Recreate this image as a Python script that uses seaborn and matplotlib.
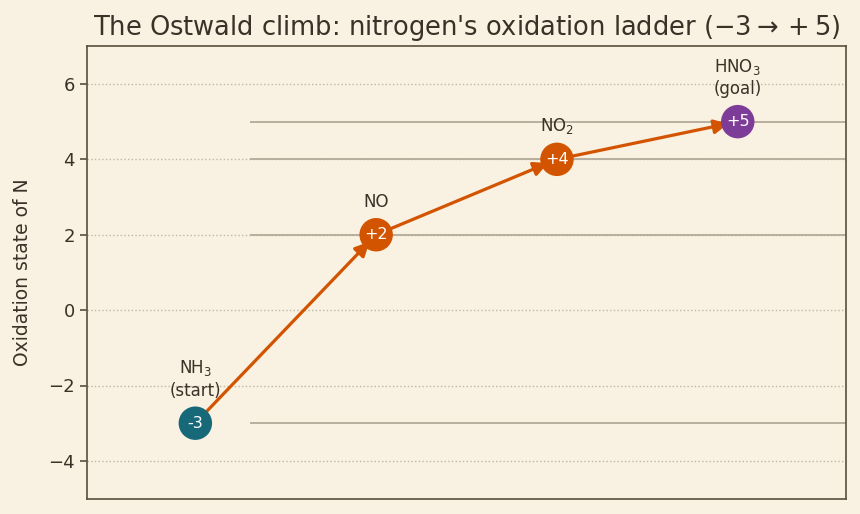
import matplotlib
matplotlib.use("Agg")
import matplotlib.pyplot as plt
import seaborn as sns
import pandas as pd

# Ostwald process steps
species = ["NH$_3$\n(start)", "NO", "NO$_2$", "HNO$_3$\n(goal)"]
ox_states = [-3, 2, 4, 5]
badge = ["-3", "+2", "+4", "+5"]
roles = ["start", "mid", "mid2", "goal"]
colors = ["#17697a", "#d35400", "#d35400", "#7d3c98"]

bg = "#f9f1e1"
ink = "#3b3128"

sns.set_theme(style="white")
plt.rcParams["font.family"] = ["DejaVu Sans"]

df = pd.DataFrame({"step": range(len(ox_states)), "ox": ox_states, "role": roles})

fig, ax = plt.subplots(figsize=(8.6, 5.14), dpi=100)
fig.patch.set_facecolor(bg)
ax.set_facecolor(bg)

# level guide lines
ax.hlines(ox_states, 0.3, 3.6, color="#b3aa9a", lw=1.3, zorder=1)

# arrows between steps
for i in range(len(ox_states) - 1):
    ax.annotate("", xy=(df.step[i + 1], ox_states[i + 1]), xytext=(df.step[i], ox_states[i]),
                arrowprops=dict(arrowstyle="-|>", color="#d35400", lw=2.3,
                                mutation_scale=21, shrinkA=0, shrinkB=7),
                zorder=2)

sns.scatterplot(data=df, x="step", y="ox", hue="role", palette=colors, s=580,
                edgecolor="none", legend=False, ax=ax, zorder=3)

for i, (lab, b) in enumerate(zip(species, badge)):
    ax.text(i, ox_states[i], b, ha="center", va="center", color="white", fontsize=11.5, zorder=4)
    ax.annotate(lab, (i, ox_states[i]), xytext=(0, 17), textcoords="offset points",
                ha="center", va="bottom", color=ink, fontsize=12, linespacing=1.25)

ax.set_xlim(-0.6, 3.6)
ax.set_ylim(-5, 7)
ax.set_yticks([-4, -2, 0, 2, 4, 6])
ax.set_xticks([])
ax.yaxis.grid(True, linestyle=":", color="#bfb6a6", lw=1)
ax.set_axisbelow(True)
ax.tick_params(axis="y", colors=ink, labelsize=13, left=True, length=5, width=1.2, color="#5a4e3c")
ax.set_ylabel("Oxidation state of N", color=ink, fontsize=13.5, labelpad=12)
ax.set_xlabel("")
ax.set_title(r"The Ostwald climb: nitrogen's oxidation ladder ($-3 \rightarrow +5$)",
             color=ink, fontsize=18.5, pad=8)
for s in ax.spines.values():
    s.set_color("#5a4e3c")
    s.set_linewidth(1.2)

fig.subplots_adjust(left=0.101, right=0.984, top=0.91, bottom=0.03)
fig.savefig("out.png", dpi=100, facecolor=bg)
